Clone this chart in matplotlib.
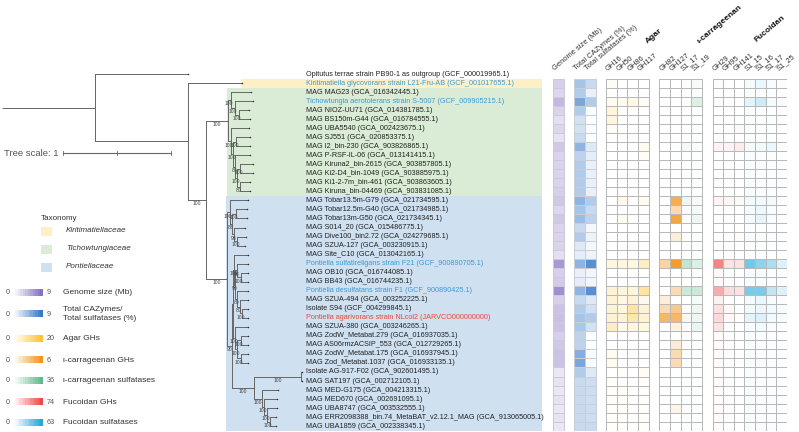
import numpy as np
import matplotlib.pyplot as plt
from matplotlib.colors import LinearSegmentedColormap
from matplotlib.patches import Rectangle

plt.rcParams['font.family'] = ['Liberation Sans', 'DejaVu Sans']

W, H = 799, 432

# -------------------- data --------------------
tip_labels = [
    "Opitutus terrae strain PB90-1 as outgroup (GCF_000019965.1)",
    "Kiritimatiella glycovorans strain L21-Fru-AB (GCF_001017655.1)",
    "MAG MAG23 (GCA_016342445.1)",
    "Tichowtungia aerotolerans strain S-5007 (GCF_009905215.1)",
    "MAG NIOZ-UU71 (GCA_014381785.1)",
    "MAG BS150m-G44 (GCA_016784555.1)",
    "MAG UBA5540 (GCA_002423675.1)",
    "MAG SJ551 (GCA_020853375.1)",
    "MAG I2_bin-230 (GCA_903826865.1)",
    "MAG P-RSF-IL-06 (GCA_013141415.1)",
    "MAG Kiruna2_bin-2615 (GCA_903857805.1)",
    "MAG Ki2-D4_bin-1049 (GCA_903885975.1)",
    "MAG Ki1-2-7m_bin-461 (GCA_903863605.1)",
    "MAG Kiruna_bin-04469 (GCA_903831085.1)",
    "MAG Tobar13.5m-G79 (GCA_021734595.1)",
    "MAG Tobar12.5m-G40 (GCA_021734985.1)",
    "MAG Tobar13m-G50 (GCA_021734345.1)",
    "MAG S014_20 (GCA_015486775.1)",
    "MAG Dive100_bin2.72 (GCA_024279685.1)",
    "MAG SZUA-127 (GCA_003230915.1)",
    "MAG Site_C10 (GCA_013042165.1)",
    "Pontiella sulfatireligans strain F21 (GCF_900890705.1)",
    "MAG OB10 (GCA_016744085.1)",
    "MAG BB43 (GCA_016744235.1)",
    "Pontiella desulfatans strain F1 (GCF_900890425.1)",
    "MAG SZUA-494 (GCA_003252225.1)",
    "Isolate S94 (GCF_004299845.1)",
    "Pontiella agarivorans strain NLcol2 (JARVCO000000000)",
    "MAG SZUA-380 (GCA_003246265.1)",
    "MAG ZodW_Metabat.279 (GCA_016937035.1)",
    "MAG AS06rmzACSIP_553 (GCA_012729265.1)",
    "MAG ZodW_Metabat.175 (GCA_016937945.1)",
    "MAG Zod_Metabat.1037 (GCA_016933135.1)",
    "Isolate AG-917-F02 (GCA_902601495.1)",
    "MAG SAT197 (GCA_002712105.1)",
    "MAG MED-G175 (GCA_004213315.1)",
    "MAG MED670 (GCA_002691095.1)",
    "MAG UBA8747 (GCA_003532555.1)",
    "MAG ERR2098388_bin.74_MetaBAT_v2.12.1_MAG (GCA_913065005.1)",
    "MAG UBA1859 (GCA_002338345.1)",
]
strain_tips = [1, 3, 21, 24]   # type strains, blue text
new_tips = [27]                # this study, red text

# tree (tip names = row index), branch lengths in tree units, supports as node names
clade_tich = ("((2:0.19,(3:0.16,(4:0.10,5:0.11)100:0.03)100:0.04)100:0.03,"
              "(6:0.17,((7:0.13,8:0.13)100:0.03,(9:0.14,((10:0.12,11:0.12)100:0.02,"
              "(12:0.10,13:0.10)80:0.02)100:0.02)80:0.02)100:0.02)100:0.03)100:0.20")
clade_tobar = "(14:0.17,((15:0.10,16:0.10)100:0.04,(17:0.10,(18:0.08,19:0.07)100:0.03)98:0.02)88:0.02)100:0.03"
clade_pont = ("((20:0.13,((21:0.10,(22:0.07,23:0.07)100:0.03)98:0.02,(24:0.10,(25:0.08,"
              "(26:0.06,27:0.06)100:0.02)80:0.02)80:0.02)90:0.01)100:0.01,(28:0.12,((29:0.07,30:0.07)100:0.03,"
              "(31:0.07,32:0.07)100:0.03)100:0.02)100:0.02):0.01")
clade_med = ("((33:0.01,34:0.01)100:0.44,(35:0.15,(36:0.12,(37:0.10,(38:0.06,39:0.06)100:0.03)100:0.02)100:0.02)"
             "100:0.08)100:0.20")
newick = (f"(0:0.86,(1:0.50,({clade_tich},({clade_tobar},({clade_pont},{clade_med})90:0.05)100:0.19)"
          f"100:0.17):0.86):0.86;")

taxonomy = [("Kiritimatiellaceae", 1, 1, "#fdf0c6"),
            ("Tichowtungiaceae", 2, 13, "#daecd5"),
            ("Pontiellaceae", 14, 39, "#cfe0f1")]

# heatmap rows = tips 1..39
genome_size = [3.0, 2.5, 4.5, 2.8, 2.0, 2.5, 1.8, 3.5, 2.8, 2.8,
               2.8, 2.8, 3.0, 3.5, 2.5, 3.5, 2.8, 2.8, 2.8, 2.0,
               6.5, 3.0, 3.2, 7.0, 3.0, 3.8, 4.0, 3.8, 3.0, 3.5,
               3.8, 3.8, 1.5, 1.8, 1.5, 1.8, 1.5, 1.8, 1.5]
total_cazymes = [4.0, 3.5, 6.0, 3.5, 2.0, 2.0, 2.5, 5.0, 3.0, 3.5,
                 3.5, 3.5, 3.5, 5.0, 4.0, 4.5, 2.5, 3.5, 1.5, 1.2,
                 5.0, 1.0, 1.2, 5.0, 2.5, 3.5, 4.0, 3.8, 3.0, 3.0,
                 5.5, 6.0, 3.5, 2.5, 2.5, 2.5, 2.5, 2.5, 2.5]
total_sulfatases = [2.5, 1.0, 3.5, 0.2, 0.1, 0.2, 0.1, 1.5, 1.2, 1.0,
                    1.0, 1.0, 1.0, 3.5, 2.5, 3.0, 0.5, 0.8, 0.5, 0.8,
                    7.5, 0.6, 0.6, 7.5, 1.5, 2.0, 3.5, 2.0, 0.1, 0.1,
                    0.3, 0.2, 1.5, 2.2, 2.2, 2.2, 2.2, 2.2, 2.4]
agar_gh16 = [1.0, 0, 1.5, 3.5, 3.5, 1.0, 0, 0, 0, 0,
             0, 0, 0, 0, 0, 0, 0, 0, 0, 0,
             3.0, 0, 0, 4.0, 4.0, 4.0, 4.5, 6.0, 0, 0,
             1.5, 1.5, 0, 0.5, 0.5, 0.5, 0.5, 0.5, 0.5]
agar_gh50 = [0, 0, 1.5, 0, 0, 0, 0, 0, 0, 0,
             0, 0, 0, 2.0, 0, 1.5, 0, 0, 0, 0,
             3.0, 0, 0, 3.5, 2.5, 3.0, 4.0, 2.0, 0, 0,
             0, 0, 0.8, 0, 0.5, 0.5, 0.5, 0.5, 0.5]
agar_gh86 = [0, 0, 2.5, 0, 0, 0, 0, 0, 0, 0,
             0, 0, 0, 0, 0, 0, 0, 0, 0, 0,
             3.0, 0, 0, 3.5, 4.0, 9.0, 8.0, 3.0, 0, 0,
             0, 0, 0, 0, 0, 0, 0.3, 0.5, 0]
agar_gh117 = [0, 0, 1.0, 0, 0, 0, 0, 1.5, 0.8, 0,
              0, 0, 0, 1.5, 0, 0, 0, 0, 0, 0,
              6.0, 0, 0, 9.0, 2.0, 4.0, 4.5, 3.0, 0, 0,
              0, 0, 1.2, 0.5, 0.8, 0.5, 0.5, 0.5, 0.5]
icarr_gh82 = [0, 0, 0, 0, 0, 0, 0, 0, 0, 0,
              0, 0, 0, 0, 0, 0, 0, 0, 0, 0,
              2.5, 0, 0, 0, 1.0, 2.0, 4.0, 0, 0, 0,
              0, 0, 0, 0, 0, 0, 0, 0, 0]
icarr_gh127 = [0, 0, 0, 0, 0, 0, 0, 0, 0, 0,
               0, 0, 0, 4.5, 2.0, 5.0, 0, 1.0, 0, 0,
               5.5, 0, 0, 2.0, 0, 3.0, 4.0, 0.8, 0, 1.2,
               2.0, 2.0, 0, 0, 0, 0, 0.6, 0, 0]
icarr_s1_17 = [1.0, 0, 0, 0, 0, 0, 0, 3.0, 0, 0,
               0, 0, 0, 4.0, 1.0, 0, 0, 0, 0, 0,
               14, 0, 0, 12, 0, 1.0, 3.0, 0, 0, 0,
               0, 0, 0.5, 0.5, 0.5, 0.5, 0.5, 0.5, 0.5]
icarr_s1_19 = [2.0, 0.5, 8.0, 0.5, 0.5, 0.5, 0.5, 1.0, 0.5, 0.5,
               0.5, 0.5, 0.5, 2.0, 2.0, 4.0, 0.5, 0.5, 0.5, 0.5,
               8.0, 0.5, 0.5, 12, 2.0, 4.0, 4.0, 5.0, 0.5, 0.5,
               0.5, 0.5, 0.5, 0.5, 0.5, 0.5, 0.5, 0.5, 0.5]
fuc_gh29 = [2, 0, 2, 0, 0, 0, 0, 5, 0, 0,
            0, 2, 0, 5, 0, 0, 0, 0, 0, 0,
            50, 3, 2, 34, 6, 13, 16, 12, 2, 2,
            2, 2, 2, 2, 2, 2, 2, 2, 2]
fuc_gh95 = [0, 0, 0, 0, 0, 0, 0, 5, 0, 0,
            0, 0, 0, 4, 0, 0, 0, 0, 0, 0,
            12, 0, 0, 14, 0, 3, 3, 0, 0, 0,
            0, 0, 0, 0, 0, 0, 0, 0, 0]
fuc_gh141 = [0, 0, 0, 0, 0, 3, 0, 8, 0, 0,
             0, 0, 0, 3, 0, 0, 0, 2, 0, 0,
             12, 0, 0, 12, 0, 0, 0, 0, 0, 0,
             0, 0, 0, 0, 0, 0, 0, 0, 0]
fuc_s1_15 = [3, 1, 8, 1, 1, 1, 1, 3, 1.5, 1.5,
             1.5, 1.5, 1.5, 4, 3, 3, 1, 2, 1, 1,
             40, 2, 2, 38, 3, 4, 8, 2, 1.5, 1.5,
             1.5, 1.5, 1.5, 1.5, 1.5, 1.5, 1.5, 1.5, 1.5]
fuc_s1_16 = [6, 1, 14, 1, 1, 1, 1, 4, 1.5, 1.5,
             1.5, 1.5, 1.5, 4, 6, 7, 1, 1.5, 1, 1,
             32, 2, 2, 38, 6, 6, 10, 4, 1.5, 1.5,
             1.5, 1.5, 1.5, 1.5, 1.5, 1.5, 1.5, 1.5, 1.5]
fuc_s1_17 = [2, 0.5, 3, 0.5, 0.5, 0.5, 0.5, 6, 1, 1,
             1, 1, 1, 4, 2, 2, 0.5, 1, 0.5, 0.5,
             24, 1, 1, 18, 2, 4, 4, 2, 1, 1,
             1, 1, 1, 1, 1, 1, 1, 1, 1]
fuc_s1_25 = [1, 0, 2, 0, 0, 0, 0, 1, 0.5, 0.5,
             0.5, 0.5, 0.5, 1, 0.5, 0.5, 0, 0.5, 0, 0,
             10, 0.5, 0.5, 10, 1, 2, 2, 0.5, 0.5, 0.5,
             0.5, 0.5, 0.5, 0.5, 0.5, 0.5, 0.5, 0.5, 0.5]

# -------------------- colours --------------------
def cm(c):
    return LinearSegmentedColormap.from_list("c", ["#ffffff", c])

cm_purple, cm_blue = cm("#8571c2"), cm("#3779c9")
cm_yellow, cm_orange = cm("#ffc52e"), cm("#f2941a")
cm_green, cm_red, cm_cyan = cm("#62b98d"), cm("#f04848"), cm("#22a8da")

# (label, values, cmap, max, slot)
columns = [
    ("Genome size (Mb)", genome_size, cm_purple, 9, 0),
    ("Total CAZymes (%)", total_cazymes, cm_blue, 9, 2),
    ("Total sulfatases (%)", total_sulfatases, cm_blue, 9, 3),
    ("GH16", agar_gh16, cm_yellow, 20, 5),
    ("GH50", agar_gh50, cm_yellow, 20, 6),
    ("GH86", agar_gh86, cm_yellow, 20, 7),
    ("GH117", agar_gh117, cm_yellow, 20, 8),
    ("GH82", icarr_gh82, cm_orange, 6, 10),
    ("GH127", icarr_gh127, cm_orange, 6, 11),
    ("S1_17", icarr_s1_17, cm_green, 36, 12),
    ("S1_19", icarr_s1_19, cm_green, 36, 13),
    ("GH29", fuc_gh29, cm_red, 74, 15),
    ("GH95", fuc_gh95, cm_red, 74, 16),
    ("GH141", fuc_gh141, cm_red, 74, 17),
    ("S1_15", fuc_s1_15, cm_cyan, 63, 18),
    ("S1_16", fuc_s1_16, cm_cyan, 63, 19),
    ("S1_17", fuc_s1_17, cm_cyan, 63, 20),
    ("S1_25", fuc_s1_25, cm_cyan, 63, 21),
]
groups = [("Agar", 9.0, -3.2), ("ι-carrageenan", 13.9, -3.2), ("Fucoidan", 19.3, -3.4)]

legend_bars = [
    ("Genome size (Mb)", cm_purple, 9),
    ("Total CAZymes/\nTotal sulfatases (%)", cm_blue, 9),
    ("Agar GHs", cm_yellow, 20),
    ("ι-carrageenan GHs", cm_orange, 6),
    ("ι-carrageenan sulfatases", cm_green, 36),
    ("Fucoidan GHs", cm_red, 74),
    ("Fucoidan sulfatases", cm_cyan, 63),
]


# -------------------- tree helpers --------------------
def parse_newick(s):
    pos = 0

    def node():
        nonlocal pos
        kids = []
        if s[pos] == "(":
            pos += 1
            while True:
                kids.append(node())
                if s[pos] == ",":
                    pos += 1
                    continue
                pos += 1  # ')'
                break
        start = pos
        while s[pos] not in ":,();":
            pos += 1
        name = s[start:pos]
        blen = 0.0
        if s[pos] == ":":
            pos += 1
            start = pos
            while s[pos] not in ",();":
                pos += 1
            blen = float(s[start:pos])
        return {"name": name, "len": blen, "children": kids}

    return node()


def layout(n, x0=0.0):
    n["x"] = x0 + n["len"]
    if n["children"]:
        for c in n["children"]:
            layout(c, n["x"])
        n["y"] = 0.5 * (n["children"][0]["y"] + n["children"][-1]["y"])
    else:
        n["y"] = float(n["name"])


def tips_of(n):
    if not n["children"]:
        return [int(n["name"])]
    out = []
    for c in n["children"]:
        out += tips_of(c)
    return out


def clade_x(n, lo, hi):
    # x of the smallest node whose tips cover lo..hi
    t = tips_of(n)
    if not (min(t) <= lo and max(t) >= hi):
        return None
    for c in n["children"]:
        r = clade_x(c, lo, hi)
        if r is not None:
            return r
    return n["x"]


LC = "#666666"


def draw(ax, n, px):
    ax.plot([px, n["x"]], [n["y"], n["y"]], color=LC, lw=0.7, solid_capstyle="butt")
    if n["children"]:
        ys = [c["y"] for c in n["children"]]
        ax.plot([n["x"], n["x"]], [min(ys), max(ys)], color=LC, lw=0.7)
        if n["name"]:
            ax.text((px + n["x"]) / 2, n["y"] + 0.15, n["name"], ha="center", va="top",
                    fontsize=3.6, color="#444444")
        for c in n["children"]:
            draw(ax, c, n["x"])
    else:
        ax.plot(n["x"], n["y"], "o", ms=1.1, color="#333333", mec="none")


# -------------------- figure --------------------
fig = plt.figure(figsize=(W / 100, H / 100), dpi=100)
ROW0, DROW, UNIT = 74.0, 9.03, 108.0
top_px, bot_px = ROW0 - 0.5 * DROW, ROW0 + 39.5 * DROW

ax_bg = fig.add_axes([0, 0, 1, 1])
ax_bg.axis("off")

ax_tree = fig.add_axes([0, 1 - bot_px / H, 542 / W, (bot_px - top_px) / H])
ax_tree.set_xlim(-2 / UNIT, 540 / UNIT)
ax_tree.set_ylim(39.5, -0.5)
ax_tree.axis("off")

tree = parse_newick(newick)
layout(tree)

# taxonomy bands
band_right = 540 / UNIT
for name, lo, hi, col in taxonomy:
    x0 = clade_x(tree, lo, hi)
    ax_tree.add_patch(Rectangle((x0 - 0.01, lo - 0.5), band_right - x0 + 0.01, hi - lo + 1,
                                color=col, lw=0, zorder=0))

draw(ax_tree, tree, 0.0)

label_x = 304 / UNIT
for i, lab in enumerate(tip_labels):
    c = "#3d9ad6" if i in strain_tips else ("#e8483c" if i in new_tips else "#222222")
    ax_tree.text(label_x, i, lab, fontsize=5.2, va="center", ha="left", color=c)

# tree scale bar
sx0, sy = 61 / UNIT, 8.75
ax_tree.plot([sx0, sx0 + 1], [sy, sy], color="#666666", lw=0.8)
for t in (sx0, sx0 + 0.5, sx0 + 1):
    ax_tree.plot([t, t], [sy - 0.25, sy + 0.25], color="#666666", lw=0.6)
ax_tree.text(sx0 - 0.04, sy, "Tree scale: 1", ha="right", va="center", fontsize=6.8, color="#555555")

# heatmap
ax_hm = fig.add_axes([553 / W, 1 - bot_px / H, (787 - 553) / W, (bot_px - top_px) / H])
ax_hm.set_xlim(0, 22)
ax_hm.set_ylim(39.5, -0.5)
ax_hm.axis("off")
yedges = np.arange(0.5, 40.5, 1.0)
for lab, vals, cmap, vmax, slot in columns:
    ec = "#cdc9dc" if slot == 0 else ("#c9ced6" if slot < 4 else "#b9b9b9")
    ax_hm.pcolormesh([slot, slot + 1], yedges, np.asarray(vals, float).reshape(-1, 1),
                     cmap=cmap, vmin=0, vmax=vmax, edgecolors=ec, linewidth=0.7)
    ax_hm.text(slot + 0.3, -0.2, lab, rotation=40, rotation_mode="anchor", ha="left", va="bottom",
               fontsize=5.4, color="#333333")
for name, sx, sy in groups:
    ax_hm.text(sx, sy, name, rotation=40, rotation_mode="anchor", ha="left", va="bottom",
               fontsize=6.0, fontweight="bold", color="#111111")

# legends
ax_bg.text(41, 218, "Taxonomy", fontsize=5.8, va="center", color="#333333")
for k, (name, lo, hi, col) in enumerate(taxonomy):
    yc = 231 + 18 * k
    ax_bg.add_patch(Rectangle((41, yc - 4.5), 11, 9, color=col, lw=0))
    ax_bg.text(66, yc, name, fontsize=5.8, style="italic", va="center", color="#333333")

grad = np.linspace(0, 1, 12).reshape(1, -1)
bar_y = [293, 314, 339, 360, 381, 402, 423]
for (name, cmap, vmax), yc in zip(legend_bars, bar_y):
    ax_bg.imshow(grad, cmap=cmap, extent=(13, 43, yc + 3.5, yc - 3.5), aspect="auto",
                 interpolation="nearest")
    ax_bg.text(8, yc, "0", fontsize=5.2, ha="center", va="center", color="#555555")
    ax_bg.text(47, yc, str(vmax), fontsize=5.2, ha="left", va="center", color="#555555")
    ax_bg.text(63, yc, name, fontsize=6.0, ha="left", va="center", color="#333333",
               linespacing=1.5)
ax_bg.set_xlim(0, W)
ax_bg.set_ylim(H, 0)

fig.savefig("out.png", dpi=100)
